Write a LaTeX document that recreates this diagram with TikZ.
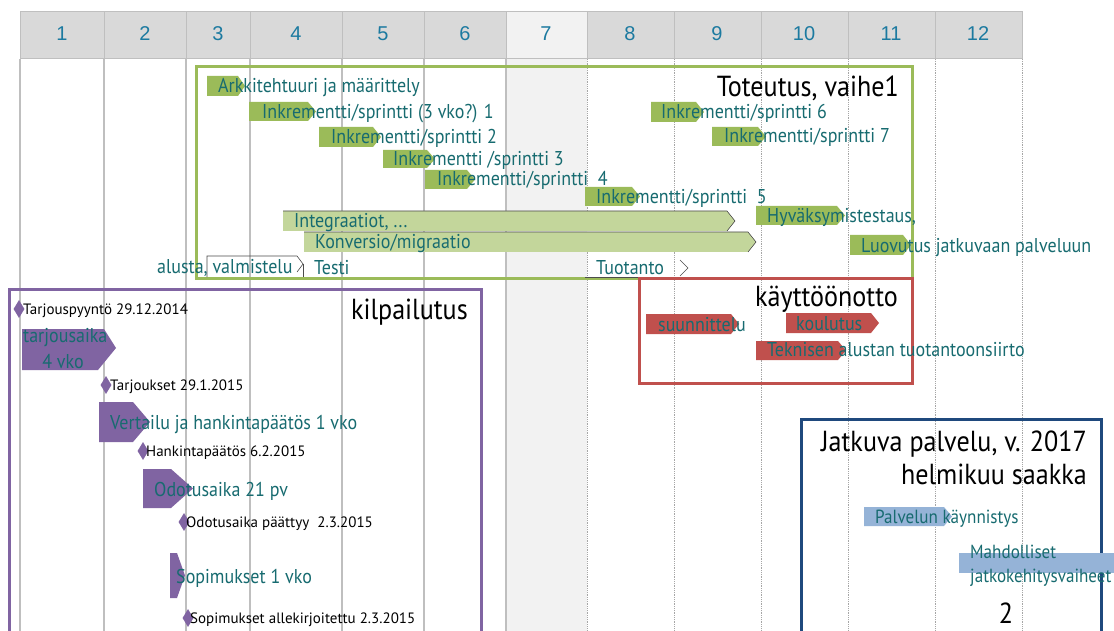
\documentclass[tikz,border=0pt]{standalone}
\usepackage{fontspec}
\setmainfont{PT Sans}[FakeStretch=0.9]
\newfontfamily\hdrfont{Liberation Sans}
\newfontfamily\milefont{PT Sans}
\usetikzlibrary{shapes.geometric}
\definecolor{gbar}{HTML}{9BBB59}
\definecolor{lgbar}{HTML}{C3D69B}
\definecolor{pbar}{HTML}{8064A2}
\definecolor{rbar}{HTML}{C0504D}
\definecolor{bbox}{HTML}{1F497D}
\definecolor{lbbar}{HTML}{95B3D7}
\definecolor{tealtxt}{RGB}{23,107,112}
\definecolor{hdrnum}{RGB}{28,122,160}
\definecolor{hdrfill}{HTML}{D9D9D9}
\definecolor{hdrlight}{HTML}{F2F2F2}
\definecolor{gridc}{HTML}{BFBFBF}
\newcommand\pentbar[6]{\fill[#6] (#1,#2) -- ({#3-#5},#2) -- (#3,{(#2+#4)/2}) -- ({#3-#5},#4) -- (#1,#4) -- cycle;}
\tikzset{
  task/.style={anchor=base west, inner sep=0pt, text=tealtxt, font=\fontsize{20}{22}\selectfont},
  tasksm/.style={anchor=base west, inner sep=0pt, text=tealtxt, font=\fontsize{19}{21}\selectfont},
  mile/.style={anchor=base west, inner sep=0pt, text=black, font=\milefont\fontsize{15}{17}\selectfont},
  title/.style={anchor=base east, inner sep=0pt, text=black, font=\fontsize{29}{32}\selectfont},
  hdr/.style={inner sep=0pt, text=hdrnum, font=\hdrfont\fontsize{20}{22}\selectfont},
  diam/.style={diamond, fill=pbar, minimum width=11pt, minimum height=18pt, inner sep=0pt, aspect=0.6},
  gridsolid/.style={draw=gridc, line width=1.1pt},
  griddash/.style={draw=gray!70, line width=0.8pt, densely dotted},
  outl/.style={draw=black!70, line width=0.6pt}
}
\begin{document}
\begin{tikzpicture}[x=1pt,y=-1pt]
\useasboundingbox (0,0) rectangle (1114,631);
\begin{scope}
\clip (0,0) rectangle (1114,631);
\fill[white] (0,0) rectangle (1114,631);
% column 7 shading
\fill[hdrlight] (506,59) rectangle (587,631);
% grid lines
\foreach \gx in {20,104,186,250,342,424,506}
  \draw[gridsolid] (\gx,59) -- (\gx,631);
\foreach \gx in {587,674,761,848,935,1022}
  \draw[griddash] (\gx,59) -- (\gx,631);
% header
\foreach \a/\b in {20/104,104/186,186/250,250/342,342/424,424/506,587/674,674/761,761/848,848/935,935/1022}
  \filldraw[fill=hdrfill, draw=gridc, line width=1pt] (\a,12) rectangle (\b,59);
\filldraw[fill=hdrlight, draw=gridc, line width=1pt] (506,12) rectangle (587,59);
\node[hdr] (h1) at (62,34) {1};
\node[hdr] (h2) at (145,34) {2};
\node[hdr] (h3) at (218,34) {3};
\node[hdr] (h4) at (296,34) {4};
\node[hdr] (h5) at (383,34) {5};
\node[hdr] (h6) at (465,34) {6};
\node[hdr] (h7) at (546,34) {7};
\node[hdr] (h8) at (630,34) {8};
\node[hdr] (h9) at (717,34) {9};
\node[hdr] (h10) at (804,34) {10};
\node[hdr] (h11) at (891,34) {11};
\node[hdr] (h12) at (978,34) {12};

% ===== Toteutus box =====
\draw[gbar, line width=3pt] (196,67) rectangle (912,278);
\pentbar{207}{76}{245}{96}{7}{gbar}
\pentbar{249}{102}{316}{121}{8}{gbar}
\pentbar{319}{127}{381}{147}{8}{gbar}
\pentbar{383}{150}{435}{168}{8}{gbar}
\pentbar{425}{170}{475}{189}{8}{gbar}
\pentbar{585}{187}{640}{206}{8}{gbar}
\pentbar{651}{102}{704}{122}{8}{gbar}
\pentbar{712}{127}{766}{146}{8}{gbar}
\pentbar{756}{206}{845}{225}{8}{gbar}
\pentbar{850}{235}{911}{255}{8}{gbar}
\pentbar{283}{211}{735}{231}{8}{lgbar}
\pentbar{304}{232}{756}{252}{8}{lgbar}
\draw[outl] (283,211) -- (727,211) -- (735,221) -- (727,231);
\draw[outl] (304,232) -- (748,232) -- (756,242) -- (748,252);
% outline shapes
\draw[outl] (207,277) -- (207,256) -- (297,256) -- (303,264) -- (297,272);
\draw[outl] (303,264) -- (303,277);
\draw[outl] (680,260) -- (688,268) -- (680,276);
\draw[black!70, line width=0.8pt] (585,277) -- (681,277);

\node[title] (tot) at (899,97) {Toteutus, vaihe1};
\node[task] (t1) at (218,93) {Arkkitehtuuri ja määrittely};
\node[task] (t2) at (262,119) {Inkrementti/sprintti (3 vko?) 1};
\node[task] (t3) at (331,144) {Inkrementti/sprintti 2};
\node[task] (t4) at (393,166) {Inkrementti /sprintti 3};
\node[task] (t5) at (437,186) {Inkrementti/sprintti\ \ 4};
\node[task] (t6) at (596,204) {Inkrementti/sprintti\ \ 5};
\node[task] (t7) at (661,119) {Inkrementti/sprintti 6};
\node[task] (t8) at (724,143) {Inkrementti/sprintti 7};
\node[task] (t9) at (767,223) {Hyväksymistestaus,};
\node[task] (t10) at (861,252) {Luovutus jatkuvaan palveluun};
\node[task] (t11) at (294,228) {Integraatiot, ...};
\node[task] (t12) at (315,249) {Konversio/migraatio};
\node[task] (t13) at (157,273) {alusta, valmistelu};
\node[task] (t14) at (314,275) {Testi};
\node[task] (t15) at (596,275) {Tuotanto};

% ===== kilpailutus box =====
\draw[pbar, line width=3pt] (9,289) rectangle (481,645);
\node[title] (kil) at (468,319) {kilpailutus};
\fill[pbar] (22,329) -- (104,329) -- (116,348) -- (98,370) -- (22,370) -- cycle;
\pentbar{99}{402}{150}{442}{17}{pbar}
\pentbar{143}{469}{193}{508}{22}{pbar}
\pentbar{170}{553}{185}{598}{8}{pbar}
\node[diam] (d1) at (19,309) {};
\node[diam] (d2) at (106,385) {};
\node[diam] (d3) at (143,451) {};
\node[diam] (d4) at (184,522) {};
\node[diam] (d5) at (188,618) {};
\node[mile] (m1) at (23,314) {Tarjouspyyntö 29.12.2014};
\node[mile] (m2) at (110,390) {Tarjoukset 29.1.2015};
\node[mile] (m3) at (146,456) {Hankintapäätös 6.2.2015};
\node[mile] (m4) at (186,527) {Odotusaika päättyy\ \ 2.3.2015};
\node[mile] (m5) at (190,623) {Sopimukset allekirjoitettu 2.3.2015};
\node[task] (p1) at (23,342) {tarjousaika};
\node[task, anchor=base] (p2) at (63,368) {4 vko};
\node[task] (p3) at (110,429) {Vertailu ja hankintapäätös 1 vko};
\node[task] (p4) at (154,496) {Odotusaika 21 pv};
\node[task] (p5) at (176,583) {Sopimukset 1 vko};

% ===== käyttöönotto box =====
\draw[rbar, line width=3pt] (639,278) rectangle (912,383);
\node[title] (kay) at (898,306) {käyttöönotto};
\pentbar{646}{314}{739}{334}{8}{rbar}
\pentbar{786}{313}{879}{333}{8}{rbar}
\pentbar{756}{341}{846}{360}{8}{rbar}
\node[task] (r1) at (658,331) {suunnittelu};
\node[task] (r2) at (796,330) {koulutus};
\node[task] (r3) at (767,356) {Teknisen alustan tuotantoonsiirto};

% ===== Jatkuva palvelu box =====
\draw[bbox, line width=3pt] (801,419) rectangle (1101,645);
\node[title] (jp1) at (1087,451) {Jatkuva palvelu, v. 2017};
\node[title] (jp2) at (1087,484) {helmikuu saakka};
\pentbar{864}{507}{952}{526}{8}{lbbar}
\fill[lbbar] (959,553) rectangle (1120,573);
\node[tasksm] (b1) at (875,523) {Palvelun käynnistys};
\node[tasksm] (b2) at (970,558) {Mahdolliset};
\node[tasksm] (b3) at (970,582) {jatkokehitysvaiheet};
\node[title, anchor=base] (pg) at (1006,623) {2};
\end{scope}
\end{tikzpicture}
\end{document}
